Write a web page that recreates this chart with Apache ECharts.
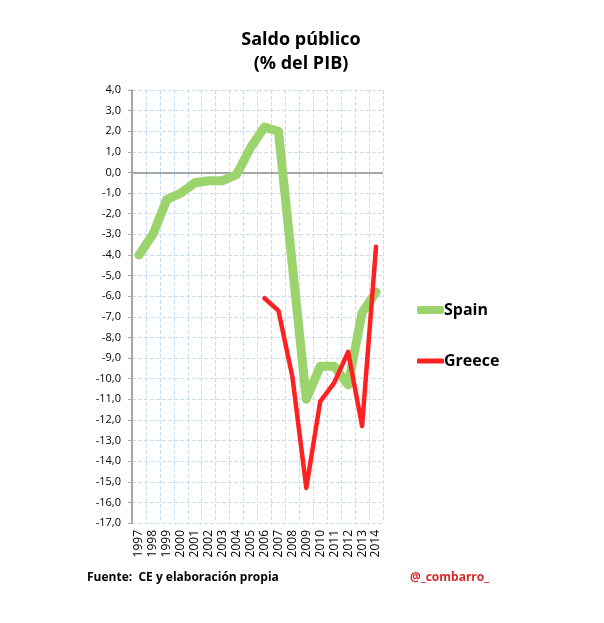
<!DOCTYPE html>
<html><head><meta charset="utf-8">
<script src="https://cdn.jsdelivr.net/npm/echarts@6/dist/echarts.min.js"></script>
<style>html,body{margin:0;padding:0;background:#fff}#c{width:604px;height:623px}</style>
</head><body><div id="c"></div>
<script>
var years = ['1997','1998','1999','2000','2001','2002','2003','2004','2005','2006','2007','2008','2009','2010','2011','2012','2013','2014'];
var spain = [-4.0,-3.0,-1.3,-1.0,-0.5,-0.4,-0.4,-0.1,1.2,2.2,2.0,-4.5,-11.0,-9.4,-9.4,-10.3,-6.8,-5.8];
var greece = [null,null,null,null,null,null,null,null,null,-6.1,-6.7,-9.9,-15.3,-11.1,-10.2,-8.7,-12.3,-3.6];
var yMin = -17, yMax = 4, yStep = 1;

var chart = echarts.init(document.getElementById('c'));
var FONT = '"Open Sans", "Noto Sans", sans-serif';
chart.setOption({
  animation: false,
  backgroundColor: '#fff',
  title: {
    text: 'Saldo público\n(% del PIB)',
    left: 296, top: 23, textAlign: 'center',
    textStyle: {fontFamily: FONT, fontWeight: 'bold', fontSize: 18, lineHeight: 24, color: '#000'}
  },
  legend: [
    {orient: 'vertical', left: 412, top: 297, itemWidth: 27, itemHeight: 8, itemGap: 5,
     icon: 'roundRect', data: ['Spain'],
     textStyle: {fontFamily: FONT, fontWeight: 'bold', fontSize: 16, color: '#000', padding: [0,0,0,-5]}},
    {orient: 'vertical', left: 412, top: 348, itemWidth: 27, itemHeight: 5, itemGap: 5,
     icon: 'roundRect', data: ['Greece'],
     textStyle: {fontFamily: FONT, fontWeight: 'bold', fontSize: 16, color: '#000', padding: [0,0,0,-5]}}
  ],
  grid: {left: 132, right: 221, top: 90, bottom: 100, containLabel: false},
  xAxis: {
    type: 'category', data: years, boundaryGap: true,
    axisLine: {show: false, onZero: false},
    axisTick: {show: false},
    axisLabel: {rotate: 90, interval: 0, fontFamily: FONT, fontSize: 12, color: '#000', margin: 7},
    splitLine: {show: true, interval: 0, lineStyle: {color: '#c9def3', type: 'dashed', width: 1}}
  },
  yAxis: {
    type: 'value', min: yMin, max: yMax, interval: yStep,
    axisLine: {show: true, lineStyle: {color: '#a6a6a6', width: 2}},
    axisTick: {show: true, length: 4, lineStyle: {color: '#a6a6a6'}},
    axisLabel: {fontFamily: FONT, fontSize: 11, color: '#000', margin: 11,
      formatter: function (v) { return v.toFixed(1).replace('.', ','); }},
    splitLine: {show: true, lineStyle: {color: '#c9def3', type: 'dashed', width: 1}}
  },
  series: [
    {name: 'Spain', type: 'line', data: spain, symbol: 'none', z: 3,
     color: '#9bd46d',
     lineStyle: {color: '#9bd46d', width: 9, cap: 'round', join: 'round'},
     markLine: {silent: true, symbol: 'none', label: {show: false}, z: 1,
       lineStyle: {color: '#a6a6a6', type: 'solid', width: 2},
       data: [{yAxis: 0}]}},
    {name: 'Greece', type: 'line', data: greece, symbol: 'none', z: 4,
     color: '#ff2121',
     lineStyle: {color: '#ff2121', width: 4.5, cap: 'round', join: 'round'}}
  ],
  graphic: [
    {type: 'text', left: 87, top: 572,
     style: {text: 'Fuente:  CE y elaboración propia', fontFamily: FONT, fontWeight: 'bold', fontSize: 12, fill: '#000'}},
    {type: 'text', left: 410, top: 572,
     style: {text: '@_combarro_', fontFamily: FONT, fontWeight: 'bold', fontSize: 12, fill: '#d42a2a'}}
  ]
});
</script></body></html>
